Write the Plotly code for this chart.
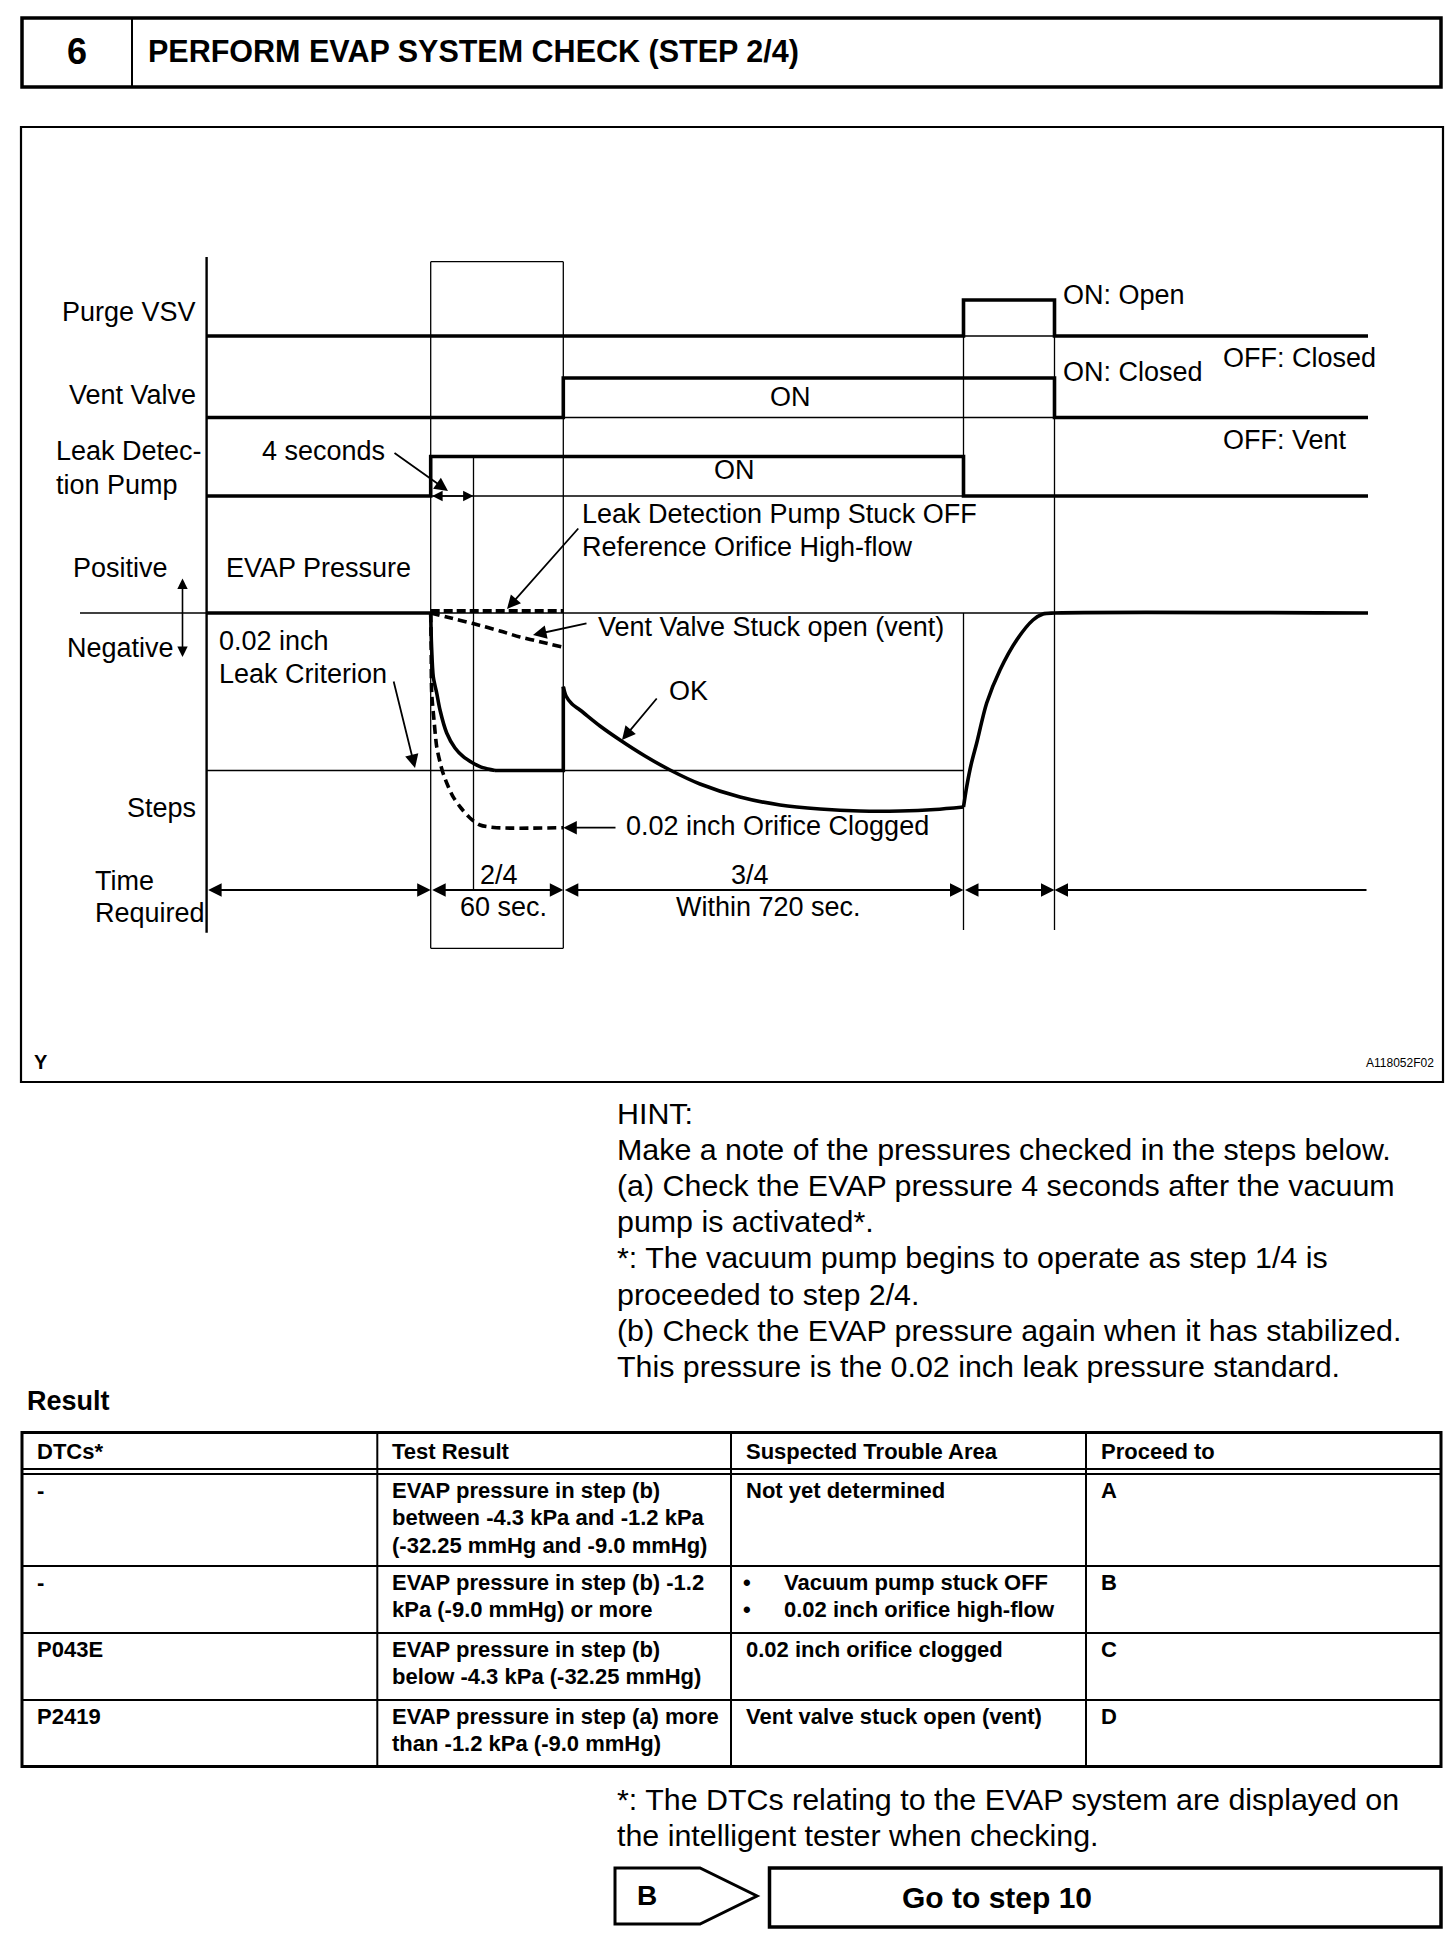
import plotly.graph_objects as go

W, H = 1456, 1940
PAGE_MARGIN = 8          # default <body> margin of the written html page
FIG_W, FIG_H = W - 2 * PAGE_MARGIN, H - 2 * PAGE_MARGIN
FONT = "Liberation Sans, Arial, sans-serif"
THICK, THIN = 3.6, 1.3

# ---------------- timing diagram: event positions (page px) ----------------
x_axis = 206.6
x_pump_on = 430.7
x_4s = 473.5
x_step3 = 563.3
x_purge_on = 963.5
x_purge_off = 1054.5
x_end = 1368
x_zero_left = 80

# signal rows (low level, high level)
purge_lo, purge_hi = 336, 300
vent_lo, vent_hi = 417.5, 378
pump_lo, pump_hi = 496, 456.5
evap_zero = 613
leak_criterion = 770.5
time_row_y = 890

purge_x = [x_axis, x_purge_on, x_purge_on, x_purge_off, x_purge_off, x_end]
purge_y = [purge_lo, purge_lo, purge_hi, purge_hi, purge_lo, purge_lo]
vent_x = [x_axis, x_step3, x_step3, x_purge_off, x_purge_off, x_end]
vent_y = [vent_lo, vent_lo, vent_hi, vent_hi, vent_lo, vent_lo]
pump_x = [x_axis, x_pump_on, x_pump_on, x_purge_on, x_purge_on, x_end]
pump_y = [pump_lo, pump_lo, pump_hi, pump_hi, pump_lo, pump_lo]

# EVAP pressure (OK) curve
ok_drop_x = [430.7, 431.5, 433.3, 436.7, 440, 446.7, 455, 463.3, 472, 480, 488, 495]
ok_drop_y = [613, 645, 677, 693, 710, 733, 748, 756.7, 762.5, 766.7, 769, 770.5]
ok_hold_x = [495, 563.3, 563.3]
ok_hold_y = [770.5, 770.5, 686.7]
ok_decay_x = [563.3, 566, 572, 580, 600, 620, 645, 670, 700, 740, 780, 820, 860, 900, 935, 963.5]
ok_decay_y = [686.7, 696, 704, 710, 726, 740, 756, 770, 784, 797, 805, 809, 811, 811, 809.5, 807]
ok_rise_x = [963.5, 966.7, 971, 976.7, 986.7, 1000, 1016.7, 1033, 1043, 1054.5, x_end]
ok_rise_y = [807, 786.7, 765, 743, 703, 670, 640, 620, 614, 613, 613]

# failure curves (dashed)
clog_x = [430.7, 431.2, 431.7, 434, 436.7, 440, 443, 448, 453, 461, 470, 480, 496.7, 563.3]
clog_y = [613, 650, 693, 720, 746.7, 762, 773, 786, 796.7, 808, 818, 825, 827.7, 827.7]
ventstuck_x = [430.7, 446.7, 473, 500, 520, 540, 563.3]
ventstuck_y = [613, 617, 623.5, 631, 637, 641.7, 647.3]
highflow_x = [430.7, 563.3]
highflow_y = [611, 611]

# time-required segments (start, end, head at start, head at end)
time_segments = [(x_axis, x_pump_on, True, True), (x_pump_on, x_step3, True, True),
                 (x_step3, x_purge_on, True, True), (x_purge_on, x_purge_off, True, True),
                 (x_purge_off, x_end, True, False)]

# ---------------- texts ----------------
hint_lines = ["HINT:",
              "Make a note of the pressures checked in the steps below.",
              "(a) Check the EVAP pressure 4 seconds after the vacuum",
              "pump is activated*.",
              "*: The vacuum pump begins to operate as step 1/4 is",
              "proceeded to step 2/4.",
              "(b) Check the EVAP pressure again when it has stabilized.",
              "This pressure is the 0.02 inch leak pressure standard."]
foot_lines = ["*: The DTCs relating to the EVAP system are displayed on",
              "the intelligent tester when checking."]

table_header = ["DTCs*", "Test Result", "Suspected Trouble Area", "Proceed to"]
col_dtc = ["-", "-", "P043E", "P2419"]
col_result = [["EVAP pressure in step (b)", "between -4.3 kPa and -1.2 kPa", "(-32.25 mmHg and -9.0 mmHg)"],
              ["EVAP pressure in step (b) -1.2", "kPa (-9.0 mmHg) or more"],
              ["EVAP pressure in step (b)", "below -4.3 kPa (-32.25 mmHg)"],
              ["EVAP pressure in step (a) more", "than -1.2 kPa (-9.0 mmHg)"]]
col_area = [["Not yet determined"],
            ["\u2022Vacuum pump stuck OFF", "\u20220.02 inch orifice high-flow"],
            ["0.02 inch orifice clogged"],
            ["Vent valve stuck open (vent)"]]
col_proceed = ["A", "B", "C", "D"]

# table geometry
tab_x = [22, 377.3, 731, 1086, 1441]
tab_top, tab_head_bot, tab_bot = 1432.5, 1469, 1766.5
row_tops = [1474, 1566, 1633, 1700]
text_pad = 12.5
TAB_FS = 22

fig = go.Figure()


def line(xs, ys, width=THICK, dash=None, shape="linear"):
    fig.add_trace(go.Scatter(x=xs, y=ys, mode="lines", hoverinfo="skip", showlegend=False,
                             line=dict(color="black", width=width, dash=dash, shape=shape,
                                       smoothing=0.8 if shape == "spline" else None)))


def txt(x, y, s, size=27, anchor="left", bold=False):
    fig.add_annotation(x=x, y=y, xref="x", yref="y", text=("<b>%s</b>" % s) if bold else s,
                       showarrow=False, xanchor=anchor, yanchor="middle",
                       font=dict(family=FONT, size=size, color="black"))


def arrow(hx, hy, tx, ty, width=1.8, size=1.5, both=False):
    fig.add_annotation(x=hx, y=hy, ax=tx, ay=ty, xref="x", yref="y", axref="x", ayref="y",
                       text="", showarrow=True, arrowhead=2, arrowsize=size, arrowwidth=width,
                       arrowcolor="black", standoff=0, startstandoff=0,
                       arrowside="end+start" if both else "end", startarrowhead=2,
                       startarrowsize=size)


def rect(x0, y0, x1, y1, width):
    fig.add_shape(type="rect", x0=x0, y0=y0, x1=x1, y1=y1, xref="x", yref="y",
                  line=dict(color="black", width=width))


def seg(x0, y0, x1, y1, width):
    fig.add_shape(type="line", x0=x0, y0=y0, x1=x1, y1=y1, xref="x", yref="y",
                  line=dict(color="black", width=width))


# ---------------- header ----------------
rect(22, 18, 1441, 87, 3.5)
seg(132, 18, 132, 87, 2)
txt(77, 51, "6", 36, "center", True)
txt(146, 51, "PERFORM EVAP SYSTEM CHECK (STEP 2/4)", 30.5, "left", True)

# ---------------- diagram frame ----------------
rect(21, 127, 1443, 1082, 2.2)
txt(41, 1062, "Y", 20, "center", True)
txt(1436, 1063, "A118052F02", 12, "right")

# thin structure lines
seg(x_pump_on, 261.7, x_step3, 261.7, THIN)
seg(x_pump_on, 261.7, x_pump_on, 948.3, THIN)
seg(x_step3, 261.7, x_step3, 948.3, THIN)
seg(x_pump_on, 948.3, x_step3, 948.3, THIN)
seg(x_4s, pump_hi, x_4s, time_row_y, THIN)
seg(x_purge_on, purge_hi, x_purge_on, pump_lo, THIN)
seg(x_purge_on, evap_zero, x_purge_on, 930, THIN)
seg(x_purge_off, purge_hi, x_purge_off, 930, THIN)
seg(x_purge_on, purge_lo, x_purge_off, purge_lo, THIN)
seg(x_step3, vent_lo, x_purge_off, vent_lo, THIN)
seg(x_pump_on, pump_lo, x_purge_on, pump_lo, THIN)
seg(x_zero_left, evap_zero, x_end, evap_zero, THIN)
seg(x_axis, leak_criterion, x_purge_on, leak_criterion, THIN)
seg(x_axis, 257, x_axis, 932.7, 2.4)

# signals
line(purge_x, purge_y)
line(vent_x, vent_y)
line(pump_x, pump_y)
line([x_axis, x_pump_on], [evap_zero, evap_zero])
line(ok_drop_x, ok_drop_y, shape="spline")
line(ok_hold_x, ok_hold_y)
line(ok_decay_x, ok_decay_y, shape="spline")
line(ok_rise_x, ok_rise_y, shape="spline")
line(clog_x, clog_y, width=3.6, dash="9px,5px", shape="spline")
line(ventstuck_x, ventstuck_y, width=3.6, dash="9px,5px", shape="spline")
line(highflow_x, highflow_y, width=3.8, dash="9px,4px")

# time required arrows
for x0, x1, h0, h1 in time_segments:
    if h0 and h1:
        arrow(x1, time_row_y, x0, time_row_y, both=True)
    else:
        arrow(x0, time_row_y, x1, time_row_y)

# pointer arrows
arrow(448, 491, 393, 452)
arrow(x_4s, pump_lo, x_pump_on, pump_lo, width=1.6, size=1.3, both=True)
arrow(507, 609, 579.6, 527)
arrow(533, 635, 588, 623)
arrow(415, 768, 393.3, 680)
arrow(622, 740, 658, 697)
arrow(x_step3, 827.7, 617, 827.7)
arrow(182.5, 657, 182.5, 577, width=1.6, size=1.3, both=True)

# diagram labels
txt(198, 312, "Purge VSV", anchor="right")
txt(198, 395, "Vent Valve", anchor="right")
txt(54, 451, "Leak Detec-")
txt(54, 485, "tion Pump")
txt(120, 568, "Positive", anchor="center")
txt(120, 648, "Negative", anchor="center")
txt(224, 568, "EVAP Pressure")
txt(216.5, 641, "0.02 inch")
txt(216.5, 674, "Leak Criterion")
txt(198, 808, "Steps", anchor="right")
txt(93, 881, "Time")
txt(93, 913, "Required")
txt(260, 451, "4 seconds")
txt(790.5, 397, "ON", anchor="center")
txt(734, 470, "ON", anchor="center")
txt(1061, 295, "ON: Open")
txt(1061, 372, "ON: Closed")
txt(1221, 358, "OFF: Closed")
txt(1221, 440, "OFF: Vent")
txt(580, 514, "Leak Detection Pump Stuck OFF")
txt(580, 547, "Reference Orifice High-flow")
txt(596, 627, "Vent Valve Stuck open (vent)")
txt(667, 691, "OK")
txt(624, 826, "0.02 inch Orifice Clogged")
txt(498.5, 875, "2/4", anchor="center")
txt(503.5, 907, "60 sec.", anchor="center")
txt(749.6, 875, "3/4", anchor="center")
txt(768, 907, "Within 720 sec.", anchor="center")

# ---------------- hint ----------------
for i, s in enumerate(hint_lines):
    txt(615, 1113 + 36.1 * i, s, 30.4)

# ---------------- result table ----------------
txt(25, 1401, "Result", 27, bold=True)
rect(tab_x[0], tab_top, tab_x[-1], tab_bot, 3)
for cx in tab_x[1:-1]:
    seg(cx, tab_top, cx, tab_bot, 2)
seg(tab_x[0], tab_head_bot, tab_x[-1], tab_head_bot, 1.8)
seg(tab_x[0], row_tops[0], tab_x[-1], row_tops[0], 1.8)
for ry in row_tops[1:]:
    seg(tab_x[0], ry, tab_x[-1], ry, 2.2)

for j, s in enumerate(table_header):
    txt(tab_x[j] + text_pad, 1451, s, TAB_FS, bold=True)

for r in range(4):
    y0 = row_tops[r] + 16.6
    txt(tab_x[0] + text_pad, y0, col_dtc[r], TAB_FS, bold=True)
    for k, s in enumerate(col_result[r]):
        txt(tab_x[1] + text_pad, y0 + 27.2 * k, s, TAB_FS, bold=True)
    for k, s in enumerate(col_area[r]):
        if s.startswith("\u2022"):
            txt(tab_x[2] + 16, y0 + 27.2 * k, "\u2022", TAB_FS, anchor="center", bold=True)
            txt(tab_x[2] + 51, y0 + 27.2 * k, s[1:], TAB_FS, bold=True)
        else:
            txt(tab_x[2] + text_pad, y0 + 27.2 * k, s, TAB_FS, bold=True)
    txt(tab_x[3] + text_pad, y0, col_proceed[r], TAB_FS, bold=True)

# ---------------- footnote & navigation ----------------
for i, s in enumerate(foot_lines):
    txt(615, 1798.6 + 35.9 * i, s, 30.4)

fig.add_shape(type="path", path="M 615 1868 L 700 1868 L 757 1896 L 700 1924 L 615 1924 Z",
              xref="x", yref="y", line=dict(color="black", width=3))
txt(647, 1895, "B", 28, "center", True)
rect(769.5, 1868, 1441, 1927, 3.5)
txt(997, 1897, "Go to step 10", 30, "center", True)

# the figure sits inside the page's 8px body margin: map page pixels onto it
fig.update_layout(width=FIG_W, height=FIG_H, margin=dict(l=0, r=0, t=0, b=0),
                  paper_bgcolor="white", plot_bgcolor="white", showlegend=False,
                  xaxis=dict(range=[PAGE_MARGIN, PAGE_MARGIN + FIG_W], visible=False, fixedrange=True),
                  yaxis=dict(range=[PAGE_MARGIN + FIG_H, PAGE_MARGIN], visible=False, fixedrange=True))
fig.write_html("out.html")
